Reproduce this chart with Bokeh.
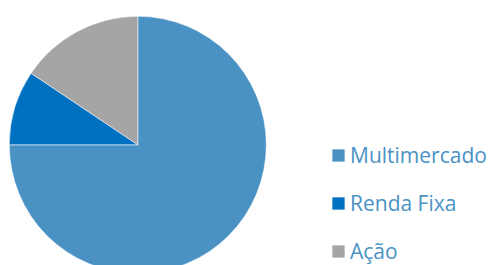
import math
from bokeh.plotting import figure
from bokeh.models import ColumnDataSource, Legend, LegendItem, Range1d
from bokeh.embed import file_html
from bokeh.resources import INLINE

categories = ["Multimercado", "Renda Fixa", "Ação"]
values = [75.0, 9.4, 15.6]
colors = ["#4A92C4", "#0070C0", "#A5A5A5"]

total = sum(values)
starts, ends = [], []
a = math.pi / 2
for v in values:
    starts.append(a)
    a = a - v / total * 2 * math.pi
    ends.append(a)

src = ColumnDataSource(dict(cat=categories, val=values, color=colors, start=starts, end=ends))

W, H = 492, 265
p = figure(width=W, height=H, output_backend="svg", toolbar_location=None,
           x_range=Range1d(0, W), y_range=Range1d(0, H), min_border=0)
p.axis.visible = False
p.grid.visible = False
p.outline_line_color = None
p.background_fill_color = "white"
p.border_fill_color = "white"

r = p.wedge(x=137.3, y=120.7, radius=128.5, radius_units="screen",
            start_angle="start", end_angle="end", direction="clock",
            fill_color="color", line_color="white", line_width=0.5, source=src)

items = [LegendItem(label=c, renderers=[r], index=i) for i, c in enumerate(categories)]
legend = Legend(items=items, location=(330, 0), orientation="vertical",
                glyph_width=16, glyph_height=16, label_standoff=4,
                label_text_font="Open Sans", label_text_font_size="21px",
                label_text_color="#4A92C4", spacing=20, padding=0, margin=0,
                border_line_color=None, background_fill_alpha=0)
p.add_layout(legend, "center")

open("out.html", "w").write(file_html(p, INLINE))
